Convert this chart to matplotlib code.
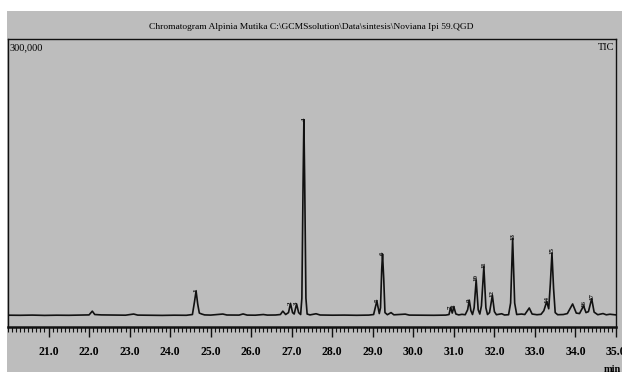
import matplotlib.pyplot as plt
from matplotlib.patches import Rectangle
from matplotlib.ticker import MultipleLocator, FixedLocator, FuncFormatter

# trace (time in min, intensity)
times = [20.00, 20.30, 20.60, 20.90, 21.20, 21.50, 21.80, 22.00, 22.08, 22.14, 22.30,
         22.60, 22.90, 23.10, 23.20, 23.50, 23.80, 24.10, 24.40, 24.55, 24.60, 24.64,
         24.68, 24.72, 24.78, 24.85, 25.00, 25.30, 25.40, 25.70, 25.80, 25.90, 26.10,
         26.30, 26.40, 26.60, 26.72, 26.78, 26.85, 26.92, 26.97, 27.02, 27.06, 27.12,
         27.17, 27.22, 27.25, 27.28, 27.30, 27.32, 27.35, 27.38, 27.45, 27.60, 27.70,
         28.00, 28.30, 28.60, 28.90, 29.02, 29.10, 29.16, 29.19, 29.22, 29.24, 29.27,
         29.30, 29.36, 29.45, 29.52, 29.80, 29.90, 30.20, 30.50, 30.80, 30.88, 30.92,
         30.96, 31.00, 31.05, 31.12, 31.20, 31.28, 31.34, 31.38, 31.42, 31.46, 31.50,
         31.55, 31.60, 31.64, 31.68, 31.74, 31.79, 31.83, 31.88, 31.95, 32.00, 32.05,
         32.18, 32.25, 32.35, 32.40, 32.45, 32.50, 32.55, 32.67, 32.75, 32.86, 32.93,
         33.05, 33.15, 33.22, 33.29, 33.34, 33.38, 33.42, 33.46, 33.50, 33.56, 33.70,
         33.80, 33.93, 34.02, 34.10, 34.20, 34.26, 34.32, 34.40, 34.46, 34.55, 34.68,
         34.76, 34.85, 35.00]
intensity = [12300, 12200, 12400, 12100, 12300, 12200, 12400, 12600, 16500, 13000, 12600,
             12400, 12300, 13500, 12400, 12300, 12100, 12300, 12200, 13000, 26000, 37500,
             24000, 14500, 13500, 12600, 12400, 13500, 12500, 12400, 13600, 12400, 12300,
             13000, 12400, 12500, 13000, 16500, 13000, 15000, 24500, 15000, 13500, 24000,
             15000, 13000, 30000, 150000, 216000, 150000, 30000, 13500, 12600, 13800, 12500,
             12300, 12400, 12200, 12400, 13000, 27000, 14000, 20000, 60000, 76000, 50000,
             15000, 12800, 15000, 12700, 13400, 12400, 12300, 12200, 12400, 13000, 20500,
             14500, 20800, 13500, 12600, 13200, 12800, 18000, 28000, 17000, 13000, 20000,
             49000, 18000, 13500, 22000, 63000, 20000, 13000, 15000, 33000, 16000, 12800,
             13800, 12500, 12800, 25000, 92500, 25000, 13000, 13500, 13000, 19800, 13500,
             12800, 13200, 17000, 26500, 19000, 45000, 77000, 40000, 15000, 12800, 13000,
             14000, 24000, 14500, 14000, 22000, 15000, 16000, 29500, 15500, 12800, 14000,
             12700, 13300, 12600]

# peak labels
peak_ids = ['1', '2', '3', '4', '5', '6', '7', '8', '9', '10', '11', '12', '13', '14', '15', '16', '17']
peak_rt = [24.64, 26.97, 27.12, 27.30, 29.10, 29.24, 30.90, 31.02, 31.38, 31.55, 31.74,
           31.95, 32.45, 33.29, 33.42, 34.20, 34.40]
peak_top = [37500, 24500, 24000, 216000, 27000, 76000, 20500, 20800, 28000, 49000, 63000,
            33000, 92500, 26500, 77000, 22000, 29500]

title = 'Chromatogram Alpinia Mutika C:\\GCMSsolution\\Data\\sintesis\\Noviana Ipi 59.QGD'
gray = '#bdbdbd'
serif = 'Liberation Serif'

fig = plt.figure(figsize=(6.22, 3.72), dpi=100, facecolor='white')
fig.patches.append(Rectangle((7 / 622, 0), 1, 361 / 372, transform=fig.transFigure,
                             facecolor=gray, edgecolor='none', zorder=-10))

ax = fig.add_axes([8 / 622, 45 / 372, 608 / 622, 288 / 372])
ax.set_facecolor(gray)
ax.plot(times, intensity, color='#111111', lw=1.2)

for lab, t, h in zip(peak_ids, peak_rt, peak_top):
    ax.annotate(lab, (t, h), xytext=(0, -1), textcoords='offset points',
                rotation=90, ha='center', va='bottom', fontsize=5,
                family=serif, fontweight='bold', color='#111111')

ax.set_xlim(20.0, 35.0)
ax.set_ylim(0, 300000)
ax.set_yticks([])
ax.xaxis.set_major_locator(FixedLocator(range(21, 36)))
ax.xaxis.set_major_formatter(FuncFormatter(lambda v, p: '%.1f' % v))
ax.xaxis.set_minor_locator(MultipleLocator(0.1))
ax.tick_params(axis='x', which='major', direction='out', length=7, width=1,
               pad=7, labelsize=8.5, color='#111111')
ax.tick_params(axis='x', which='minor', direction='out', length=3.5, width=0.8,
               color='#111111')
for lbl in ax.get_xticklabels():
    lbl.set_family(serif)
    lbl.set_fontweight('bold')

for side in ['top', 'left', 'right']:
    ax.spines[side].set_linewidth(1.0)
    ax.spines[side].set_color('#111111')
ax.spines['bottom'].set_linewidth(1.8)
ax.spines['bottom'].set_color('#111111')

ax.text(0.002, 0.985, '300,000', transform=ax.transAxes, ha='left', va='top',
        fontsize=7.5, family=serif)
ax.text(0.998, 0.985, 'TIC', transform=ax.transAxes, ha='right', va='top',
        fontsize=7.5, family=serif)
fig.text(0.5, 1 - 27 / 372, title, ha='center', va='center', fontsize=6.8, family=serif)
fig.text(612 / 622, 1 - 369 / 372, 'min', ha='center', va='center', fontsize=7.5,
         family=serif, fontweight='bold')

fig.savefig('out.png', dpi=100, facecolor='white')
